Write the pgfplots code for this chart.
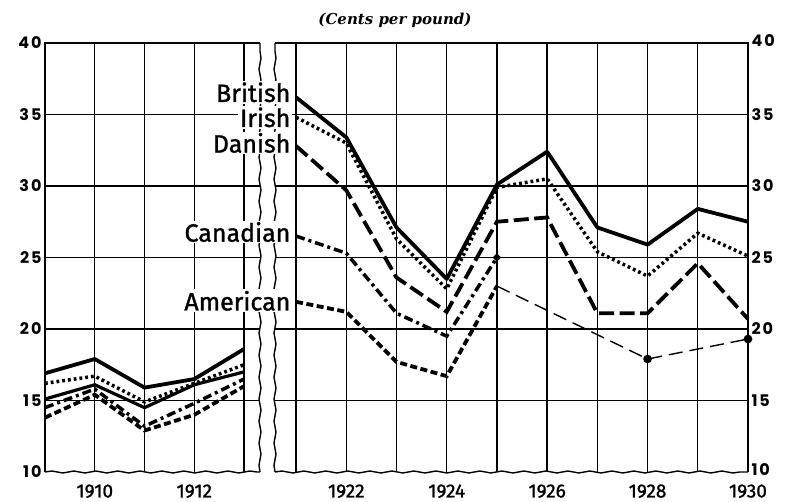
\documentclass[border=0pt]{standalone}
\usepackage{fontspec}
\setmainfont{Fira Sans}
\newfontfamily\labfont[FakeBold=1.2]{Fira Sans}
\newfontfamily\tickfont[LetterSpace=12]{Poppins}
\newfontfamily\titlefont{DejaVu Serif}
\usepackage{pgfplots}
\pgfplotsset{compat=1.18}
\usetikzlibrary{decorations.pathmorphing}

\tikzset{
 brit/.style={line width=3.8pt, line join=round},
 iri/.style={line width=3.5pt, line cap=butt, dash pattern=on 2.8pt off 3pt},
 dan/.style={line width=3.8pt, dash pattern=on 15pt off 5.5pt},
 danL/.style={line width=3.2pt},
 can/.style={line width=3.5pt, dash pattern=on 9pt off 4pt on 3pt off 4pt},
 ame/.style={line width=3.8pt, dash pattern=on 7pt off 3.5pt},
 wavy/.style={decorate, decoration={snake, amplitude=1pt, segment length=22pt}, line width=1.4pt},
}

\pgfplotsset{
 common/.style={
  scale only axis, height=429pt,
  ymin=10, ymax=40,
  ytick={15,20,...,35},
  extra y ticks={10,40},
  extra y tick style={grid=none},
  grid=major,
  grid style={black, line width=1.3pt},
  axis line style={draw=none},
  tick style={draw=none},
  clip=false,
  /pgf/number format/assume math mode=true,
  yticklabel style={font=\tickfont\bfseries\fontsize{16}{16}\selectfont},
  xticklabel style={font=\labfont\fontsize{19}{19}\selectfont, yshift=-9pt},
 }
}

\begin{document}
\begin{tikzpicture}
\useasboundingbox (0,0) rectangle (785pt,502pt);

% left panel
\begin{axis}[common, at={(45pt,30pt)}, anchor=south west, width=215pt,
  xmin=1909, xmax=1913.32,
  xtick={1909,1910,1911,1912,1913},
  xticklabels={,1910,,1912,},
  yticklabel pos=left]
 \draw[line width=1.5pt] (rel axis cs:0,0) -- (rel axis cs:0,1) -- (rel axis cs:1,1);
 \draw[wavy] (rel axis cs:0,0) -- (rel axis cs:1,0);
 \draw[wavy] (rel axis cs:1,0) -- (rel axis cs:1,1);
 \addplot[brit, no marks] coordinates {(1909,16.9)(1910,17.9)(1911,15.9)(1912,16.5)(1913,18.6)};
 \addplot[iri, no marks] coordinates {(1909,16.2)(1910,16.7)(1911,14.9)(1912,16.2)(1913,17.5)};
 \addplot[danL, no marks] coordinates {(1909,15.1)(1910,16.1)(1911,14.5)(1912,16.1)(1913,17.0)};
 \addplot[can, no marks] coordinates {(1909,14.5)(1910,15.8)(1911,13.2)(1912,14.8)(1913,16.5)};
 \addplot[ame, no marks] coordinates {(1909,13.8)(1910,15.4)(1911,12.9)(1912,14.0)(1913,16.0)};
\end{axis}

% right panel
\begin{axis}[common, at={(275pt,30pt)}, anchor=south west, width=473pt,
  xmin=1920.58, xmax=1930,
  xtick={1921,...,1930},
  xticklabels={,1922,,1924,,1926,,1928,,1930},
  yticklabel pos=right,
  extra y tick style={grid=none, yticklabel style={yshift=2pt}}]
 \draw[line width=1.5pt] (rel axis cs:0,1) -- (rel axis cs:1,1) -- (rel axis cs:1,0);
 \draw[wavy] (rel axis cs:0,0) -- (rel axis cs:1,0);
 \draw[wavy] (rel axis cs:0,0) -- (rel axis cs:0,1);
 \addplot[brit, no marks] coordinates {(1921,36.2)(1922,33.4)(1923,27.1)(1924,23.5)(1925,30.1)(1926,32.4)(1927,27.1)(1928,25.9)(1929,28.4)(1930,27.5)};
 \addplot[iri, no marks] coordinates {(1921,34.8)(1922,33.0)(1923,26.3)(1924,22.8)(1925,29.9)(1926,30.5)(1927,25.4)(1928,23.7)(1929,26.7)(1930,25.1)};
 \addplot[dan, no marks] coordinates {(1921,32.8)(1922,29.7)(1923,23.6)(1924,21.2)(1925,27.5)(1926,27.8)(1927,21.1)(1928,21.1)(1929,24.6)(1930,20.7)};
 \addplot[can, mark=*, mark size=1.8pt, mark indices={5}, mark options={solid}] coordinates {(1921,26.5)(1922,25.3)(1923,21.1)(1924,19.5)(1925,25.0)};
 \addplot[ame, no marks] coordinates {(1921,21.9)(1922,21.2)(1923,17.7)(1924,16.7)(1925,23.0)};
 \addplot[line width=1.4pt, dash pattern=on 14pt off 7pt, mark=*, mark size=3.6pt, mark indices={2,3}, mark options={solid}] coordinates {(1925,23.0)(1928,17.9)(1930,19.3)};
 \coordinate (cB) at (axis cs:1921,36.2);
 \coordinate (cI) at (axis cs:1921,34.8);
 \coordinate (cD) at (axis cs:1921,32.8);
 \coordinate (cC) at (axis cs:1921,26.5);
 \coordinate (cA) at (axis cs:1921,21.9);
\end{axis}

\begin{scope}[every node/.style={anchor=east, fill=white, inner sep=1.5pt, font=\labfont\fontsize{25}{25}\selectfont}]
 \node[xshift=-4pt, yshift=5pt] at (cB) {British};
 \node[xshift=-4pt, yshift=0pt] at (cI) {Irish};
 \node[xshift=-4pt, yshift=3pt] at (cD) {Danish};
 \node[xshift=-4pt, yshift=4pt] at (cC) {Canadian};
 \node[xshift=-4pt, yshift=1pt] at (cA) {American};
\end{scope}

\node[font=\titlefont\bfseries\itshape\fontsize{15}{15}\selectfont, anchor=base] at (395pt,477pt) {(Cents per pound)};
\end{tikzpicture}
\end{document}
